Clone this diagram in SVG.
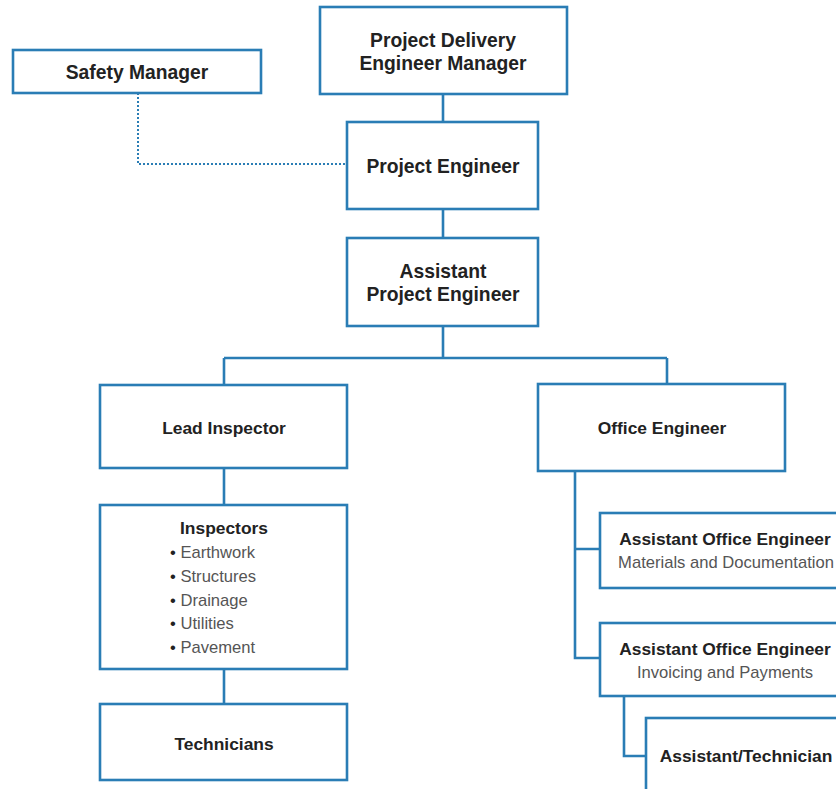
<svg xmlns="http://www.w3.org/2000/svg" width="836" height="789" viewBox="0 0 836 789">
<style>
.box{fill:#fff;stroke:#2a7db5;stroke-width:2.6}
.ln{fill:none;stroke:#2a7db5;stroke-width:2.6}
.dot{fill:none;stroke:#2a7db5;stroke-width:2;stroke-dasharray:2 2}
.t{font-family:"Liberation Sans",Arial,sans-serif;font-weight:bold;fill:#222;text-anchor:middle}
.big{font-size:19.3px}
.mid{font-size:17.4px}
.r{font-family:"Liberation Sans",Arial,sans-serif;font-size:16.6px;fill:#555}
.b{fill:#222}
</style>
<rect width="836" height="789" fill="#fff"/>
<g id="connectors">
<path class="ln" d="M443 94V122M443 209V238M443 326V358M224 358H667M224 358V385M667 358V384M224 468V505M224 669V704M575 471V658H600M575 549H600M624 696V756H646"/>
<path class="dot" d="M138 93V164H347"/>
</g>
<g id="safety-manager"><rect class="box" x="13" y="50" width="248" height="43"/><text class="t big" x="137" y="79">Safety Manager</text></g>
<g id="pdem"><rect class="box" x="320" y="7" width="247" height="87"/><text class="t big" x="443" y="47">Project Delivery</text><text class="t big" x="443" y="70">Engineer Manager</text></g>
<g id="project-engineer"><rect class="box" x="347" y="122" width="191" height="87"/><text class="t big" x="443" y="173">Project Engineer</text></g>
<g id="assistant-project-engineer"><rect class="box" x="347" y="238" width="191" height="88"/><text class="t big" x="443" y="278">Assistant</text><text class="t big" x="443" y="301">Project Engineer</text></g>
<g id="lead-inspector"><rect class="box" x="100" y="385" width="247" height="83"/><text class="t mid" x="224" y="434">Lead Inspector</text></g>
<g id="inspectors"><rect class="box" x="100" y="505" width="247" height="164"/><text class="t mid" x="224" y="534">Inspectors</text>
<text class="r" x="170" y="558"><tspan class="b">•</tspan> Earthwork</text>
<text class="r" x="170" y="582"><tspan class="b">•</tspan> Structures</text>
<text class="r" x="170" y="606"><tspan class="b">•</tspan> Drainage</text>
<text class="r" x="170" y="629"><tspan class="b">•</tspan> Utilities</text>
<text class="r" x="170" y="653"><tspan class="b">•</tspan> Pavement</text></g>
<g id="technicians"><rect class="box" x="100" y="704" width="247" height="76"/><text class="t mid" x="224" y="750">Technicians</text></g>
<g id="office-engineer"><rect class="box" x="538" y="384" width="247" height="87"/><text class="t mid" x="662" y="434">Office Engineer</text></g>
<g id="aoe-materials"><rect class="box" x="600" y="513" width="260" height="75"/><text class="t mid" x="725" y="545">Assistant Office Engineer</text><text class="r" x="726" y="568" text-anchor="middle">Materials and Documentation</text></g>
<g id="aoe-invoicing"><rect class="box" x="600" y="623" width="260" height="73"/><text class="t mid" x="725" y="655">Assistant Office Engineer</text><text class="r" x="725" y="678" text-anchor="middle">Invoicing and Payments</text></g>
<g id="assistant-technician"><rect class="box" x="646" y="718" width="220" height="90"/><text class="t mid" x="746" y="762">Assistant/Technician</text></g>
</svg>
